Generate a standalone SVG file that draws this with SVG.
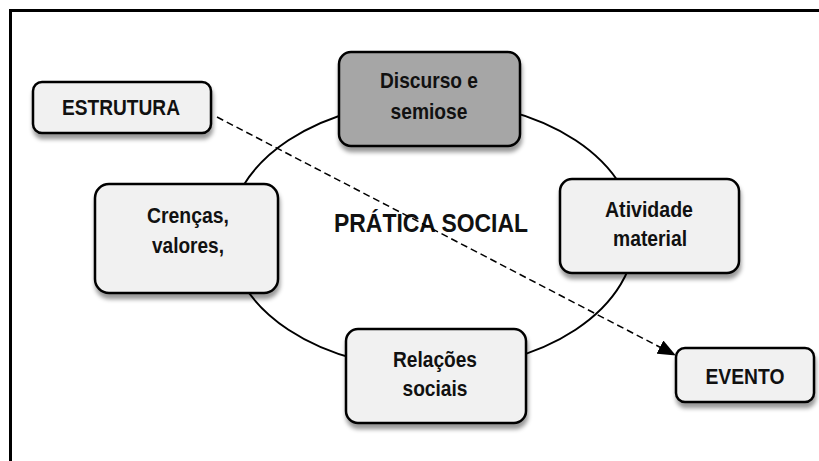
<svg xmlns="http://www.w3.org/2000/svg" width="819" height="461" viewBox="0 0 819 461">
<style>
.box{stroke:#000;stroke-width:2.5;fill:#f1f1f1;filter:url(#sh)}
.dark{fill:#a6a6a6}
.t{font-family:"Liberation Sans",Arial,sans-serif;font-weight:bold;font-size:21.5px;fill:#111;text-anchor:middle}
.conn{stroke:#000;stroke-width:1.5;stroke-dasharray:7 4;fill:none}
</style>
<defs>
<filter id="sh" x="-10%" y="-10%" width="130%" height="140%">
<feDropShadow dx="1" dy="5" stdDeviation="2" flood-color="#000" flood-opacity="0.4"/>
</filter>
<marker id="arr" markerWidth="18" markerHeight="15" refX="17" refY="7.5" orient="auto" markerUnits="userSpaceOnUse">
<path d="M0,0 L18,7.5 L0,15 Z" fill="#000"/>
</marker>
</defs>
<rect width="819" height="461" fill="#fff"/>
<rect x="10.5" y="10.5" width="820" height="460" fill="none" stroke="#000" stroke-width="3"/>
<ellipse cx="432" cy="235" rx="203" ry="134" fill="none" stroke="#000" stroke-width="2"/>
<text class="t" x="431" y="232" style="font-size:26px" textLength="194" lengthAdjust="spacingAndGlyphs">PRÁTICA SOCIAL</text>
<g id="estrutura"><rect class="box" x="33" y="82" width="178" height="51" rx="9"/><text class="t" x="121" y="115" textLength="118" lengthAdjust="spacingAndGlyphs">ESTRUTURA</text></g>
<g id="discurso"><rect class="box dark" x="339" y="52" width="181" height="94" rx="12"/><text class="t" x="429" y="88" textLength="98" lengthAdjust="spacingAndGlyphs">Discurso e</text><text class="t" x="429" y="119" textLength="77" lengthAdjust="spacingAndGlyphs">semiose</text></g>
<g id="crencas"><rect class="box" x="95" y="184" width="183" height="109" rx="14"/><text class="t" x="188" y="223" textLength="82" lengthAdjust="spacingAndGlyphs">Crenças,</text><text class="t" x="188" y="253" textLength="72" lengthAdjust="spacingAndGlyphs">valores,</text></g>
<g id="atividade"><rect class="box" x="560" y="179" width="179" height="94" rx="12"/><text class="t" x="649" y="217" textLength="88" lengthAdjust="spacingAndGlyphs">Atividade</text><text class="t" x="650" y="246" textLength="74" lengthAdjust="spacingAndGlyphs">material</text></g>
<g id="relacoes"><rect class="box" x="346" y="329" width="180" height="94" rx="12"/><text class="t" x="435" y="367" textLength="84" lengthAdjust="spacingAndGlyphs">Relações</text><text class="t" x="435" y="396" textLength="65" lengthAdjust="spacingAndGlyphs">sociais</text></g>
<g id="evento"><rect class="box" x="676" y="348" width="138" height="54" rx="9"/><text class="t" x="745" y="384" textLength="79" lengthAdjust="spacingAndGlyphs">EVENTO</text></g>
<g id="connectors"><path class="conn" d="M217,117 L675,355" marker-end="url(#arr)"/></g>
</svg>
